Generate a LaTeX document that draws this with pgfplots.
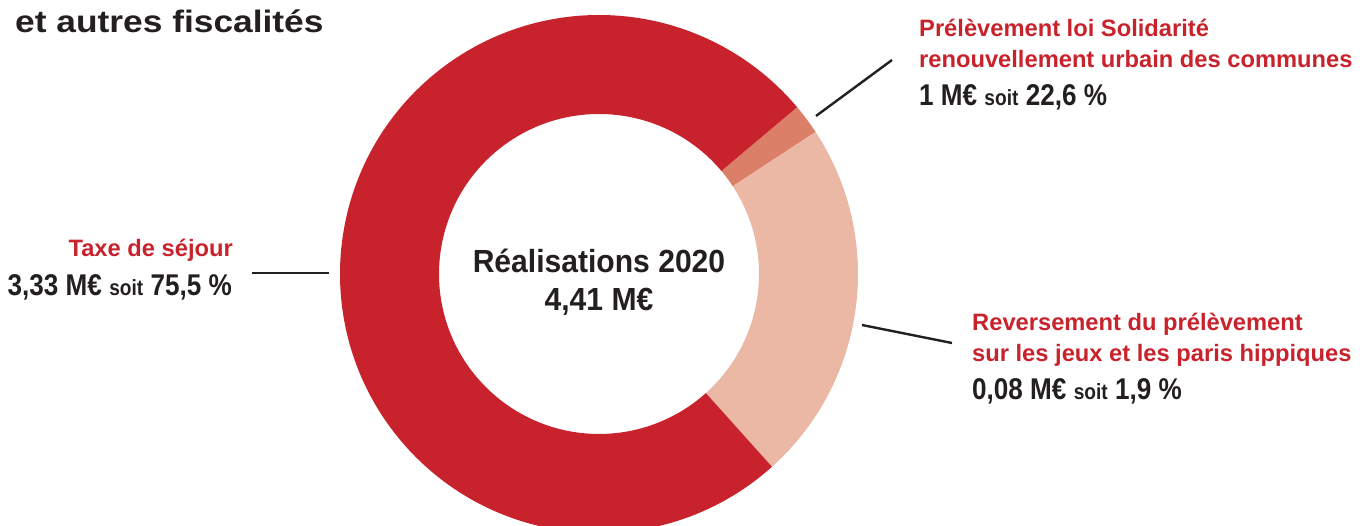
\documentclass[border=0pt]{standalone}
\usepackage{fontspec}
\setmainfont{Liberation Sans}
\newfontfamily\valfont[FakeStretch=0.87]{Liberation Sans}
\newfontfamily\ctrfont[FakeStretch=0.94]{Liberation Sans}
\newfontfamily\titlefont[FakeStretch=1.14]{Liberation Sans}
\usepackage{pgfplots}
\usepackage{pgfplotstable}
\pgfplotsset{compat=1.18}

\definecolor{bigred}{HTML}{C8232C}
\definecolor{salmon}{HTML}{DB7F68}
\definecolor{blush}{HTML}{EBB8A5}
\definecolor{textdark}{HTML}{231F20}

% parts of the total, in percent, clockwise from the top right
\pgfplotstableread{
share colour
1.9   salmon
22.6  blush
75.5  bigred
}\slices

% one ring slice, centre (599,252) in axis units (1 unit = 1pt)
\newcommand\slice[3]{%
  \fill[#3] ([shift={(#1:259pt)}]axis cs:599,252)
    arc[start angle=#1, end angle=#2, radius=259pt]
    -- ([shift={(#2:160pt)}]axis cs:599,252)
    arc[start angle=#2, end angle=#1, radius=160pt] -- cycle;}

\newcommand\soit{{\fontsize{22}{26}\selectfont soit}}

\begin{document}
\begin{tikzpicture}
  \pgfmathsetmacro\aA{40.1}
  \pgfplotstablegetelem{0}{share}\of\slices
  \pgfmathsetmacro\aB{\aA-3.6*\pgfplotsretval}
  \pgfplotstablegetelem{1}{share}\of\slices
  \pgfmathsetmacro\aC{\aB-3.6*\pgfplotsretval}
  \pgfplotstablegetelem{2}{share}\of\slices
  \pgfmathsetmacro\aD{\aC-3.6*\pgfplotsretval}
  \begin{axis}[
      width=1360pt, height=526pt, scale only axis,
      xmin=0, xmax=1360, ymin=0, ymax=526,
      hide axis, clip=true,
    ]
    \slice{\aA}{\aB}{salmon}
    \slice{\aB}{\aC}{blush}
    \slice{\aC}{\aD}{bigred}

    % leader lines
    \draw[textdark, line width=2.4pt] (axis cs:816,410) -- (axis cs:892,466);
    \draw[textdark, line width=2.4pt] (axis cs:252,253) -- (axis cs:329,253);
    \draw[textdark, line width=2.4pt] (axis cs:862,201) -- (axis cs:952,183);

    % title
    \node[anchor=base west, inner sep=0, text=textdark,
      font=\titlefont\bfseries\fontsize{31}{36}\selectfont]
      at (axis cs:15,493) {et autres fiscalités};

    % centre
    \node[anchor=base, inner sep=0, text=textdark,
      font=\ctrfont\bfseries\fontsize{32}{38}\selectfont]
      at (axis cs:599,253) {Réalisations 2020};
    \node[anchor=base, inner sep=0, text=textdark,
      font=\ctrfont\bfseries\fontsize{32}{38}\selectfont]
      at (axis cs:599,215) {4,41 M€};

    % top right
    \begin{scope}[every node/.style={anchor=base west, inner sep=0}]
      \node[text=bigred, font=\bfseries\fontsize{23.7}{28}\selectfont]
        at (axis cs:919,489) {Prélèvement loi Solidarité};
      \node[text=bigred, font=\bfseries\fontsize{23.7}{28}\selectfont]
        at (axis cs:919,458) {renouvellement urbain des communes};
      \node[text=textdark, font=\valfont\bfseries\fontsize{30}{36}\selectfont]
        at (axis cs:919,420) {1 M€ \soit{} 22,6 \%};

      % right
      \node[text=bigred, font=\bfseries\fontsize{23.7}{28}\selectfont]
        at (axis cs:972,195) {Reversement du prélèvement};
      \node[text=bigred, font=\bfseries\fontsize{23.7}{28}\selectfont]
        at (axis cs:972,164) {sur les jeux et les paris hippiques};
      \node[text=textdark, font=\valfont\bfseries\fontsize{30}{36}\selectfont]
        at (axis cs:972,126) {0,08 M€ \soit{} 1,9 \%};
    \end{scope}

    % left
    \node[anchor=base east, inner sep=0, text=bigred,
      font=\bfseries\fontsize{23.7}{28}\selectfont]
      at (axis cs:233,269) {Taxe de séjour};
    \node[anchor=base east, inner sep=0, text=textdark,
      font=\valfont\bfseries\fontsize{30}{36}\selectfont]
      at (axis cs:232,230) {3,33 M€ \soit{} 75,5 \%};
  \end{axis}
  \pgfresetboundingbox
  \useasboundingbox (0,0) rectangle (1360pt,526pt);
\end{tikzpicture}
\end{document}
